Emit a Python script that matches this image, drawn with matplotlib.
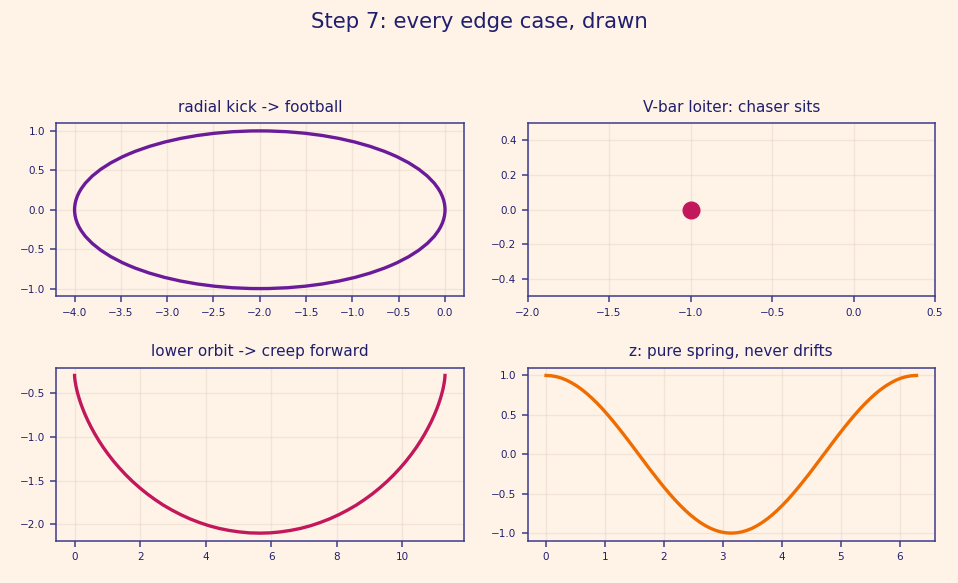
import matplotlib
matplotlib.use("Agg")
import matplotlib.pyplot as plt
from matplotlib.patches import Ellipse
from matplotlib.ticker import MultipleLocator

# radial kick: football-shaped relative orbit (centre, full width, full height)
kick_center = (-2.0, 0.0)
kick_width = 4.0
kick_height = 2.0

# V-bar loiter: the chaser just sits
loiter_x = [-1.0]
loiter_y = [0.0]

# lower orbit: creeps forward
creep_x = [0.000, 0.000, 0.002, 0.005, 0.013, 0.025, 0.043, 0.067, 0.100, 0.141,
           0.192, 0.253, 0.326, 0.411, 0.508, 0.618, 0.741, 0.877, 1.027, 1.191,
           1.369, 1.560, 1.764, 1.981, 2.211, 2.453, 2.705, 2.968, 3.241, 3.523,
           3.812, 4.109, 4.411, 4.718, 5.028, 5.341, 5.655, 5.969, 6.282, 6.592,
           6.899, 7.201, 7.497, 7.787, 8.069, 8.341, 8.605, 8.857, 9.099, 9.328,
           9.545, 9.750, 9.941, 10.118, 10.282, 10.433, 10.569, 10.692, 10.802, 10.899,
           10.984, 11.057, 11.118, 11.169, 11.210, 11.243, 11.267, 11.285, 11.297, 11.304,
           11.308, 11.310, 11.310]
creep_y = [-0.300, -0.303, -0.314, -0.331, -0.354, -0.384, -0.421, -0.463, -0.511, -0.564,
           -0.622, -0.684, -0.750, -0.820, -0.892, -0.967, -1.044, -1.122, -1.200, -1.279,
           -1.356, -1.433, -1.508, -1.580, -1.650, -1.716, -1.779, -1.836, -1.889, -1.937,
           -1.979, -2.016, -2.046, -2.069, -2.086, -2.097, -2.100, -2.097, -2.086, -2.069,
           -2.046, -2.016, -1.979, -1.937, -1.889, -1.836, -1.779, -1.716, -1.650, -1.580,
           -1.508, -1.433, -1.356, -1.279, -1.200, -1.122, -1.044, -0.967, -0.892, -0.820,
           -0.750, -0.684, -0.622, -0.564, -0.511, -0.463, -0.421, -0.384, -0.354, -0.331,
           -0.314, -0.303, -0.300]

# z: pure spring
spring_t = [0.000, 0.087, 0.175, 0.262, 0.349, 0.436, 0.524, 0.611, 0.698, 0.785,
            0.873, 0.960, 1.047, 1.134, 1.222, 1.309, 1.396, 1.484, 1.571, 1.658,
            1.745, 1.833, 1.920, 2.007, 2.094, 2.182, 2.269, 2.356, 2.443, 2.531,
            2.618, 2.705, 2.793, 2.880, 2.967, 3.054, 3.142, 3.229, 3.316, 3.403,
            3.491, 3.578, 3.665, 3.752, 3.840, 3.927, 4.014, 4.102, 4.189, 4.276,
            4.363, 4.451, 4.538, 4.625, 4.712, 4.800, 4.887, 4.974, 5.061, 5.149,
            5.236, 5.323, 5.411, 5.498, 5.585, 5.672, 5.760, 5.847, 5.934, 6.021,
            6.109, 6.196, 6.283]
spring_z = [1.000, 0.996, 0.985, 0.966, 0.940, 0.906, 0.866, 0.819, 0.766, 0.707,
            0.643, 0.574, 0.500, 0.423, 0.342, 0.259, 0.174, 0.087, 0.000, -0.087,
            -0.174, -0.259, -0.342, -0.423, -0.500, -0.574, -0.643, -0.707, -0.766, -0.819,
            -0.866, -0.906, -0.940, -0.966, -0.985, -0.996, -1.000, -0.996, -0.985, -0.966,
            -0.940, -0.906, -0.866, -0.819, -0.766, -0.707, -0.643, -0.574, -0.500, -0.423,
            -0.342, -0.259, -0.174, -0.087, 0.000, 0.087, 0.174, 0.259, 0.342, 0.423,
            0.500, 0.574, 0.643, 0.707, 0.766, 0.819, 0.866, 0.906, 0.940, 0.966,
            0.985, 0.996, 1.000]

bg = "#fff2e7"
navy = "#3b3b8c"
title_col = "#1f1f6e"

fig, axes = plt.subplots(2, 2, figsize=(9.58, 5.83), dpi=100)
fig.patch.set_facecolor(bg)
fig.subplots_adjust(left=0.0585, right=0.976, top=0.789, bottom=0.072,
                    wspace=0.157, hspace=0.41)

for ax in axes.flat:
    ax.set_facecolor(bg)
    for sp in ax.spines.values():
        sp.set_color(navy)
        sp.set_linewidth(1.1)
    ax.tick_params(colors=navy, labelcolor=title_col, labelsize=7.5, length=4.5, width=1.1)
    ax.grid(True, color="#d8c6b8", linewidth=1.0, alpha=0.3)
    ax.set_axisbelow(True)

ax = axes[0, 0]
ax.add_patch(Ellipse(kick_center, kick_width, kick_height, fill=False,
                     edgecolor="#6a1b9a", lw=2.4))
ax.autoscale_view()
ax.set_title("radial kick -> football", color=title_col, fontsize=11, pad=8)

ax = axes[0, 1]
ax.plot(loiter_x, loiter_y, "o", color="#c2185b", markersize=12)
ax.set_xlim(-2, 0.5)
ax.set_ylim(-0.5, 0.5)
ax.set_title("V-bar loiter: chaser sits", color=title_col, fontsize=11, pad=8)

ax = axes[1, 0]
ax.plot(creep_x, creep_y, color="#c2185b", lw=2.4)
ax.yaxis.set_major_locator(MultipleLocator(0.5))
ax.set_title("lower orbit -> creep forward", color=title_col, fontsize=11, pad=8)

ax = axes[1, 1]
ax.plot(spring_t, spring_z, color="#ef6c00", lw=2.4)
ax.set_title("z: pure spring, never drifts", color=title_col, fontsize=11, pad=8)

fig.suptitle("Step 7: every edge case, drawn", color=title_col, fontsize=15.3,
             y=0.962, va="center")

fig.savefig("out.png", facecolor=bg)
